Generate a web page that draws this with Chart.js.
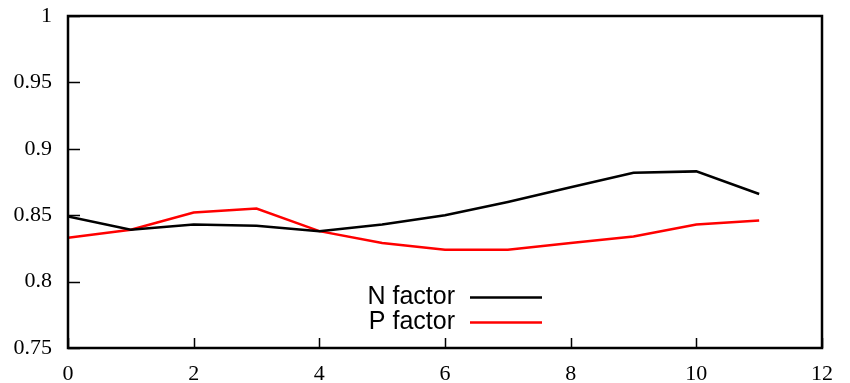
<!DOCTYPE html>
<html>
<head>
<meta charset="utf-8">
<script src="https://cdn.jsdelivr.net/npm/chart.js@4/dist/chart.umd.min.js"></script>
<style>
html,body{margin:0;padding:0;background:#fff;}
#wrap{width:850px;height:383px;position:relative;}
</style>
</head>
<body>
<div id="wrap"><canvas id="c" width="850" height="383"></canvas></div>
<script>
const xValues = [0,1,2,3,4,5,6,7,8,9,10,11];
const nFactor = [0.849,0.839,0.843,0.842,0.838,0.843,0.850,0.860,0.871,0.882,0.883,0.866];
const pFactor = [0.833,0.839,0.852,0.855,0.838,0.829,0.824,0.824,0.829,0.834,0.843,0.846];
const seriesLabels = ['N factor','P factor'];
const seriesColors = ['#000000','#ff0000'];
const xTicks = [0,2,4,6,8,10,12];
const yTicks = [0.75,0.8,0.85,0.9,0.95,1];

const toPts = arr => arr.map((v,i)=>({x:xValues[i], y:v}));

const framePlugin = {
  id:'frame',
  afterDatasetsDraw(chart){
    const {ctx, chartArea:a, scales} = chart;
    ctx.save();
    ctx.strokeStyle='#000';
    ctx.lineWidth=2.5;
    ctx.strokeRect(a.left, a.top, a.right-a.left, a.bottom-a.top);
    ctx.beginPath();
    xTicks.forEach(t=>{
      const px = Math.round(scales.x.getPixelForValue(t))+0.5;
      ctx.moveTo(px, a.bottom); ctx.lineTo(px, a.bottom-10);
    });
    yTicks.forEach(t=>{
      const py = Math.round(scales.y.getPixelForValue(t))+0.5;
      ctx.moveTo(a.left, py); ctx.lineTo(a.left+12, py);
    });
    ctx.lineWidth=1.5;
    ctx.stroke();
    // legend
    ctx.font = '25px "Liberation Sans", Arial, sans-serif';
    ctx.textAlign='right';
    ctx.textBaseline='middle';
    const ys=[297,322];
    chart.data.datasets.forEach((ds,i)=>{
      ctx.fillStyle='#000';
      ctx.fillText(ds.label, 455, ys[i]);
      ctx.strokeStyle=ds.borderColor;
      ctx.lineWidth=2.5;
      ctx.beginPath();
      ctx.moveTo(470, ys[i]+0.5); ctx.lineTo(542, ys[i]+0.5);
      ctx.stroke();
    });
    ctx.restore();
  }
};

new Chart(document.getElementById('c'), {
  type:'line',
  data:{
    datasets:[
      {label:seriesLabels[0], data:toPts(nFactor), borderColor:seriesColors[0], borderWidth:2.5, pointRadius:0, fill:false, tension:0},
      {label:seriesLabels[1], data:toPts(pFactor), borderColor:seriesColors[1], borderWidth:2.5, pointRadius:0, fill:false, tension:0}
    ]
  },
  options:{
    responsive:false,
    animation:false,
    layout:{padding:{top:16,right:28,left:0,bottom:0}},
    plugins:{legend:{display:false}, tooltip:{enabled:false}},
    scales:{
      x:{
        type:'linear', min:0, max:12,
        afterBuildTicks(s){ s.ticks = xTicks.map(v=>({value:v})); },
        grid:{display:false, drawTicks:false},
        border:{display:false},
        ticks:{padding:13, color:'#000', font:{family:'"Liberation Serif", "Times New Roman", serif', size:22}, maxRotation:0},
        afterFit(s){ s.height = 35; s.paddingLeft = 0; s.paddingRight = 0; }
      },
      y:{
        type:'linear', min:0.75, max:1,
        afterBuildTicks(s){ s.ticks = yTicks.map(v=>({value:v})); },
        grid:{display:false, drawTicks:false},
        border:{display:false},
        ticks:{padding:16, color:'#000', font:{family:'"Liberation Serif", "Times New Roman", serif', size:22}, callback:v=>String(+v.toFixed(2))},
        afterFit(s){ s.width = 68; s.paddingTop = 0; s.paddingBottom = 0; }
      }
    }
  },
  plugins:[framePlugin]
});
</script>
</body>
</html>
